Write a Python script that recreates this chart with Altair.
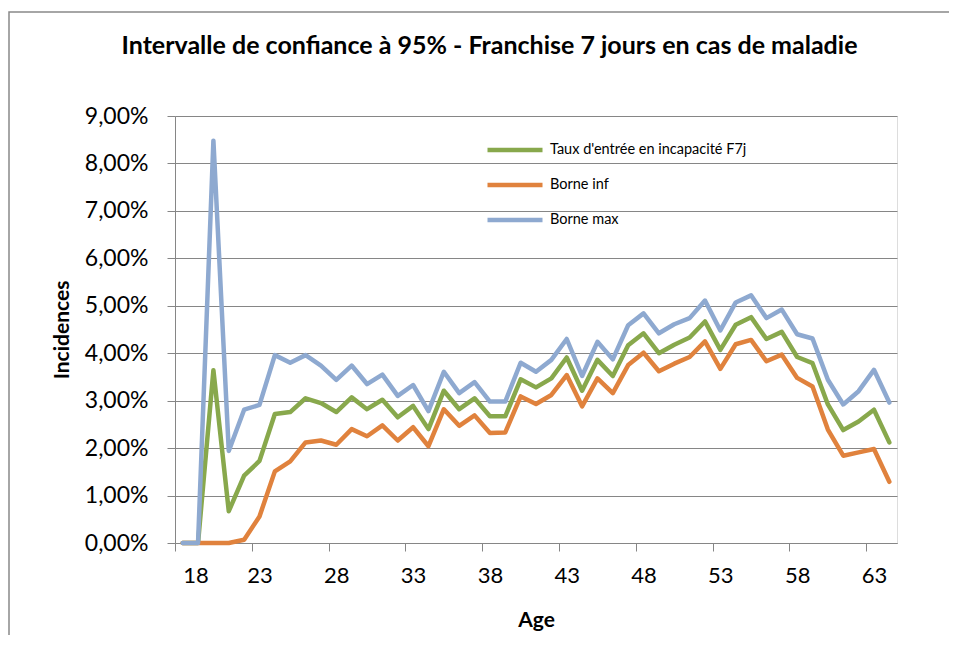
import altair as alt
import pandas as pd

ages = list(range(18, 65))

taux = [0, 0, 3.64, 0.67, 1.42, 1.73, 2.72, 2.76, 3.05, 2.95,
        2.76, 3.07, 2.82, 3.02, 2.65, 2.89, 2.40, 3.21, 2.82, 3.05,
        2.67, 2.67, 3.45, 3.28, 3.47, 3.91, 3.21, 3.86, 3.52, 4.17,
        4.42, 4.00, 4.18, 4.33, 4.67, 4.07, 4.60, 4.76, 4.30, 4.45,
        3.92, 3.79, 2.92, 2.38, 2.56, 2.81, 2.12]

borne_inf = [0, 0, 0, 0, 0.07, 0.56, 1.51, 1.72, 2.12, 2.16,
             2.07, 2.40, 2.25, 2.48, 2.16, 2.44, 2.04, 2.82, 2.47, 2.69,
             2.32, 2.33, 3.09, 2.93, 3.12, 3.54, 2.88, 3.47, 3.16, 3.75,
             4.01, 3.62, 3.78, 3.92, 4.25, 3.67, 4.19, 4.28, 3.83, 3.97,
             3.48, 3.30, 2.39, 1.84, 1.91, 1.98, 1.29]

borne_max = [0, 0, 8.48, 1.94, 2.81, 2.91, 3.96, 3.80, 3.96, 3.74,
             3.44, 3.74, 3.35, 3.55, 3.10, 3.33, 2.78, 3.61, 3.16, 3.39,
             2.98, 2.98, 3.80, 3.61, 3.86, 4.30, 3.52, 4.24, 3.87, 4.59,
             4.84, 4.42, 4.61, 4.74, 5.11, 4.48, 5.07, 5.22, 4.74, 4.92,
             4.40, 4.31, 3.44, 2.92, 3.20, 3.65, 2.96]

series_names = ["Taux d'entrée en incapacité F7j", "Borne inf", "Borne max"]
series_colors = ["#88A84C", "#E0823D", "#8EA9D0"]
x_tick_bounds = [17.5 + 5 * k for k in range(10)]
y_ticks = [k / 100 for k in range(10)]

rows = []
for name, vals in zip(series_names, [taux, borne_inf, borne_max]):
    for a, v in zip(ages, vals):
        rows.append({"Age": a, "Valeur": v / 100, "Série": name, "ord": series_names.index(name)})
df = pd.DataFrame(rows)

W, H = 722, 427
FONT = "Lato"

lines = alt.Chart(df).mark_line(strokeWidth=4.5, strokeCap="round", strokeJoin="round").encode(
    x=alt.X("Age:Q",
            scale=alt.Scale(domain=[17.5, 64.5], nice=False, zero=False),
            axis=alt.Axis(values=x_tick_bounds,
                          labelExpr="format(datum.value + 0.5, 'd')",
                          labelOffset=W / 47 / 2,
                          tickSize=8, labelPadding=14, grid=False,
                          labelFont=FONT, labelFontSize=22, labelColor="#000000",
                          tickColor="#868686", domainColor="#868686",
                          title="Age", titleFont=FONT, titleFontSize=21, titleFontWeight="bold",
                          titleColor="#000000", titleX=W / 2, titleY=77,
                          titleBaseline="middle", titleAlign="center")),
    y=alt.Y("Valeur:Q",
            scale=alt.Scale(domain=[0, 0.09], nice=False),
            axis=alt.Axis(values=y_ticks,
                          labelExpr="replace(format(datum.value, '.2%'), '.', ',')",
                          tickSize=8, labelPadding=19, grid=True,
                          gridColor="#868686", gridWidth=1,
                          labelFont=FONT, labelFontSize=23, labelColor="#000000",
                          tickColor="#868686", domainColor="#868686",
                          title="Incidences", titleFont=FONT, titleFontSize=21,
                          titleFontWeight="bold", titleColor="#000000",
                          titleX=-113, titleY=H / 2, titleAngle=-90,
                          titleAlign="center", titleBaseline="middle")),
    color=alt.Color("Série:N",
                    scale=alt.Scale(domain=series_names, range=series_colors),
                    legend=alt.Legend(orient="none", legendX=310, legendY=17.5, title=None,
                                      symbolType="stroke", symbolSize=3025,
                                      symbolStrokeWidth=4.5, clipHeight=33, rowPadding=2,
                                      labelOffset=5, labelLimit=400,
                                      labelFont=FONT, labelFontSize=14.5,
                                      labelColor="#000000")),
    order=alt.Order("ord:Q"),
    detail="Série:N",
)

frame = alt.Chart(alt.Data(values=[{}])).mark_rect(
    fill="transparent", stroke="#898989", strokeWidth=1.5
).encode(x=alt.value(-166), x2=alt.value(1000), y=alt.value(-104), y2=alt.value(800))

chart = alt.layer(frame, lines).properties(
    width=W, height=H,
    padding={"left": 167, "top": 108, "right": 52, "bottom": 92},
    autosize=alt.AutoSizeParams(type="none"),
    title=alt.Title("Intervalle de confiance à 95% - Franchise 7 jours en cas de maladie",
                    font=FONT, fontSize=25, fontWeight="bold", color="#000000",
                    anchor="middle", frame="group", baseline="alphabetic",
                    offset=0, dy=68, dx=-46.5),
).configure_view(strokeWidth=0).configure(background="white")

chart.save("out.html", embed_options={"renderer": "svg", "actions": False})
